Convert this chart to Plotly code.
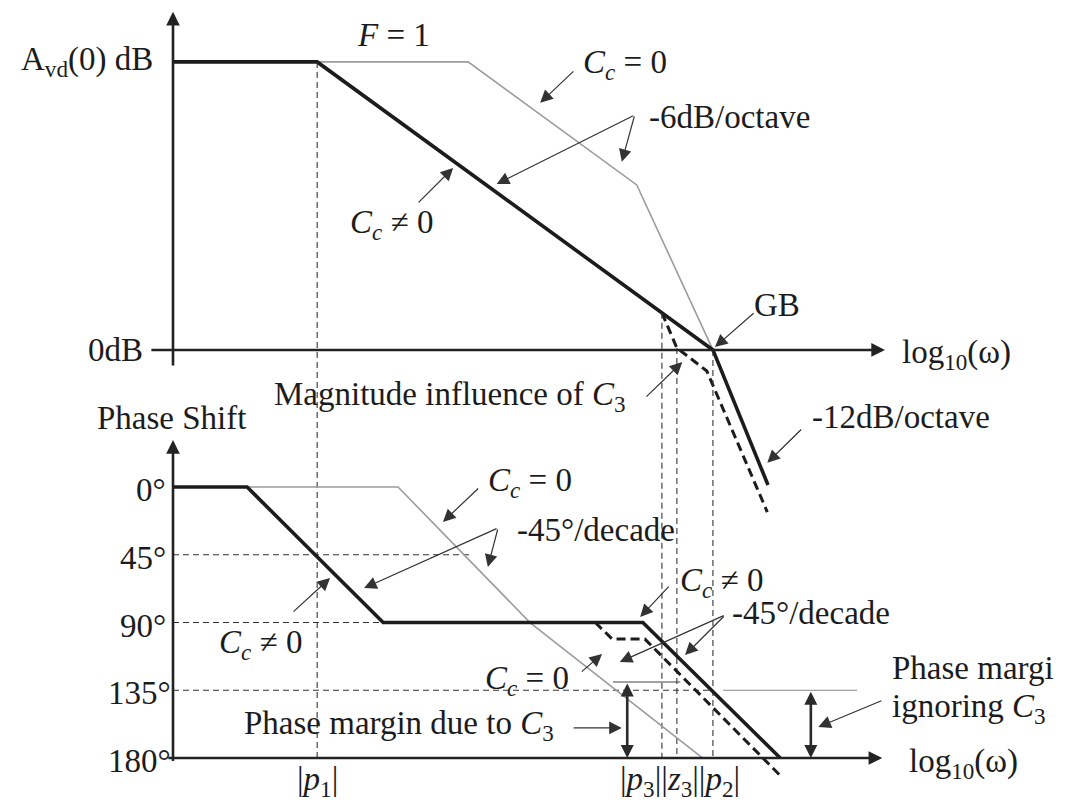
import plotly.graph_objects as go

# ---------------- breakpoints along log10(ω), in decades ----------------
P1 = 2.12          # dominant pole |p1|
P3 = 7.19          # |p3|
Z3 = 7.41          # |z3|
P2 = 7.94          # |p2|, also the unity-gain frequency GB

# ---------------- magnitude curves (dB) ----------------
mag_cc_x = [0.0, 2.12, 7.94, 8.75]          # Cc != 0 (compensated)
mag_cc_db = [100.0, 100.0, 0.0, -46.9]
mag_nocc_x = [0.0, 4.34, 6.82, 7.94]        # Cc = 0
mag_nocc_db = [100.0, 100.0, 57.3, 0.0]
mag_c3_x = [7.19, 7.41, 7.85, 8.74]         # influence of C3
mag_c3_db = [12.9, 0.7, -7.3, -56.3]

# ---------------- phase curves (degrees of lag) ----------------
ph_cc_x = [0.0, 1.09, 3.09, 6.91, 8.93]
ph_cc_deg = [0, 0, 90, 90, 180]
ph_nocc_x = [0.0, 3.31, 5.25, 7.79]
ph_nocc_deg = [0, 0, 90, 180]
ph_c3_x = [6.21, 6.46, 6.94, 7.16, 8.96]
ph_c3_deg = [90, 101, 101, 111, 193]

phase_ticks = [0, 45, 90, 135, 180]
phase_tick_labels = ["0°", "45°", "90°", "135°", "180°"]
AVD0_DB = 100.0
PM_C3_DEG = 129.5      # phase at GB including C3
PM_DEG = 135.0         # phase at GB ignoring C3

# ---------------- axis geometry ----------------
X_RANGE = [-2.5441, 13.2059]
MAG_RANGE = [-158.0, 121.5]
PHASE_RANGE = [211.2, -323.5]   # reversed: lag grows downward

FONT = "Liberation Serif"
FONT_SIZE = 33
INK = "#1c1c1c"
GRAY = "#9c9c9c"


def db_on_phase_axis(db):
    """Express a magnitude level in phase-axis units (both axes share the canvas)."""
    f = (db - MAG_RANGE[0]) / (MAG_RANGE[1] - MAG_RANGE[0])
    return PHASE_RANGE[0] + f * (PHASE_RANGE[1] - PHASE_RANGE[0])


fig = go.Figure()


def line(x, y, yaxis="y", color=INK, width=1.0, dash="solid"):
    fig.add_trace(go.Scatter(x=x, y=y, yaxis=yaxis, mode="lines",
                             line=dict(color=color, width=width, dash=dash),
                             hoverinfo="skip", showlegend=False))


GUIDE = dict(color="#333333", width=1.1, dash="6px,4px")

# horizontal phase guides
line([0, 4.41], [45, 45], "y2", **GUIDE)
line([0, 3.09], [90, 90], "y2", **GUIDE)
line([0, P2], [135, 135], "y2", **GUIDE)

# vertical frequency guides running through both panels
line([P1, P1], [db_on_phase_axis(AVD0_DB), 180], "y2", **GUIDE)
line([P3, P3], [db_on_phase_axis(mag_c3_db[0]), 180], "y2", **GUIDE)
line([Z3, Z3], [db_on_phase_axis(mag_c3_db[1]), 180], "y2", **GUIDE)
line([P2, P2], [db_on_phase_axis(0.0), 180], "y2", **GUIDE)

# phase-margin reference levels
line([6.47, 7.46], [PM_C3_DEG, PM_C3_DEG], "y2", color="#444444", width=1.1)
line([8.09, 10.06], [PM_DEG, PM_DEG], "y2", color="#888888", width=1.0)

# uncompensated curves (light gray)
line(mag_nocc_x, mag_nocc_db, "y", color=GRAY, width=1.6)
line(ph_nocc_x, ph_nocc_deg, "y2", color=GRAY, width=1.6)

# curves including C3 (heavy dashed)
line(mag_c3_x, mag_c3_db, "y", color=INK, width=3.0, dash="9px,5px")
line(ph_c3_x, ph_c3_deg, "y2", color=INK, width=3.0, dash="9px,5px")

# compensated curves (heavy solid)
line(mag_cc_x, mag_cc_db, "y", color=INK, width=3.6)
line(ph_cc_x, ph_cc_deg, "y2", color=INK, width=3.6)

annotations = []


def arrow(x0, y0, x1, y1, yref="y", width=1.2, size=2.1, color="#333333"):
    annotations.append(dict(x=x1, y=y1, ax=x0, ay=y0, xref="x", yref=yref,
                            axref="x", ayref=yref, text="", showarrow=True,
                            arrowhead=2, arrowsize=size, arrowwidth=width,
                            arrowcolor=color))


def double_arrow(x, y0, y1, yref="y2"):
    annotations.append(dict(x=x, y=y1, ax=x, ay=y0, xref="x", yref=yref,
                            axref="x", ayref=yref, text="", showarrow=True,
                            arrowhead=2, startarrowhead=2, arrowside="end+start",
                            arrowsize=1.0, startarrowsize=1.0, arrowwidth=2.6,
                            arrowcolor="#2a2a2a"))


def label(text, x, y, yref="y", xanchor="center", size=FONT_SIZE):
    annotations.append(dict(x=x, y=y, xref="x", yref=yref, text=text,
                            showarrow=False, xanchor=xanchor, yanchor="middle",
                            font=dict(family=FONT, size=size, color=INK)))


# axes with arrowheads
AX = dict(width=2.6, size=1.05, color="#222222")
arrow(-0.34, 0.0, 10.47, 0.0, "y", **AX)          # magnitude frequency axis
arrow(0.0, -5.9, 0.0, 117.4, "y", **AX)           # magnitude axis
arrow(-0.09, 180, 10.43, 180, "y2", **AX)         # phase frequency axis
arrow(0.0, 183, 0.0, -31.2, "y2", **AX)           # phase axis

# ---- magnitude panel text ----
label("A<sub>vd</sub>(0) dB", -0.26, AVD0_DB, "y", xanchor="right")
label("0dB", -0.41, 0.0, "y", xanchor="right")
label("<i>F</i> = 1", 3.24, 109.4, "y")
label("<i>C<sub>c</sub></i> = 0", 6.65, 99.0, "y")
arrow(5.91, 97.2, 5.40, 85.8, "y")
label("-6dB/octave", 6.97, 80.9, "y", xanchor="left")
arrow(6.79, 81.6, 4.76, 57.6, "y")
arrow(6.79, 81.6, 6.60, 65.3, "y")
label("<i>C<sub>c</sub></i> ≠ 0", 3.22, 43.4, "y")
arrow(3.59, 50.7, 4.12, 63.2, "y")
label("GB", 8.88, 15.6, "y")
arrow(8.56, 13.2, 7.97, 1.0, "y")
label("log<sub>10</sub>(ω)", 10.69, -1.7, "y", xanchor="left")
label("Magnitude influence of <i>C</i><sub>3</sub>", 1.46, -16.0, "y", xanchor="left")
arrow(6.94, -16.7, 7.49, -4.2, "y")
label("-12dB/octave", 9.37, -23.3, "y", xanchor="left")
arrow(9.26, -27.1, 8.74, -39.2, "y")

# ---- phase panel text ----
label("Phase Shift", -1.15, -45.8, "y2", xanchor="left")
for v, t in zip(phase_ticks, phase_tick_labels):
    label(t, -0.07 if v < 135 else 0.0, v + 2, "y2", xanchor="right")
label("<i>C<sub>c</sub></i> = 0", 5.25, -3.0, "y2")
arrow(4.51, 0.0, 3.97, 23.2, "y2")
label("-45°/decade", 5.03, 28.6, "y2", xanchor="left")
arrow(4.78, 27.2, 4.63, 53.1, "y2")
arrow(4.78, 27.2, 2.81, 67.1, "y2")
label("<i>C<sub>c</sub></i> ≠ 0", 1.29, 104.9, "y2")
arrow(1.75, 83.7, 2.31, 60.4, "y2")
label("<i>C<sub>c</sub></i> ≠ 0", 8.07, 63.1, "y2")
arrow(7.31, 65.1, 6.87, 86.3, "y2")
label("-45°/decade", 8.19, 83.7, "y2", xanchor="left")
arrow(8.12, 85.0, 6.57, 116.2, "y2")
arrow(8.12, 85.0, 7.53, 111.6, "y2")
label("<i>C<sub>c</sub></i> = 0", 5.21, 128.2, "y2")
arrow(5.99, 123.5, 6.31, 110.9, "y2")
label("Phase margin due to <i>C</i><sub>3</sub>", 1.01, 158.7, "y2", xanchor="left")
arrow(5.87, 160.0, 6.60, 160.0, "y2")
double_arrow(6.68, PM_C3_DEG, 180)
label("Phase margi", 10.54, 120.2, "y2", xanchor="left")
label("ignoring <i>C</i><sub>3</sub>", 10.54, 146.8, "y2", xanchor="left")
arrow(10.44, 141.5, 9.49, 159.4, "y2")
double_arrow(9.38, PM_DEG, 180)
label("log<sub>10</sub>(ω)", 10.79, 183.3, "y2", xanchor="left")
label("|<i>p</i><sub>1</sub>|", P1, 195.5, "y2")
label("|<i>p</i><sub>3</sub>||<i>z</i><sub>3</sub>||<i>p</i><sub>2</sub>|", 7.46, 195.5, "y2")

fig.update_layout(
    width=1071, height=805,
    margin=dict(l=0, r=0, t=0, b=0, pad=0),
    paper_bgcolor="white", plot_bgcolor="white",
    showlegend=False,
    xaxis=dict(range=X_RANGE, visible=False, fixedrange=True),
    yaxis=dict(range=MAG_RANGE, visible=False, fixedrange=True),
    yaxis2=dict(range=PHASE_RANGE, overlaying="y", visible=False, fixedrange=True),
    annotations=annotations,
)

fig.write_html("out.html")
